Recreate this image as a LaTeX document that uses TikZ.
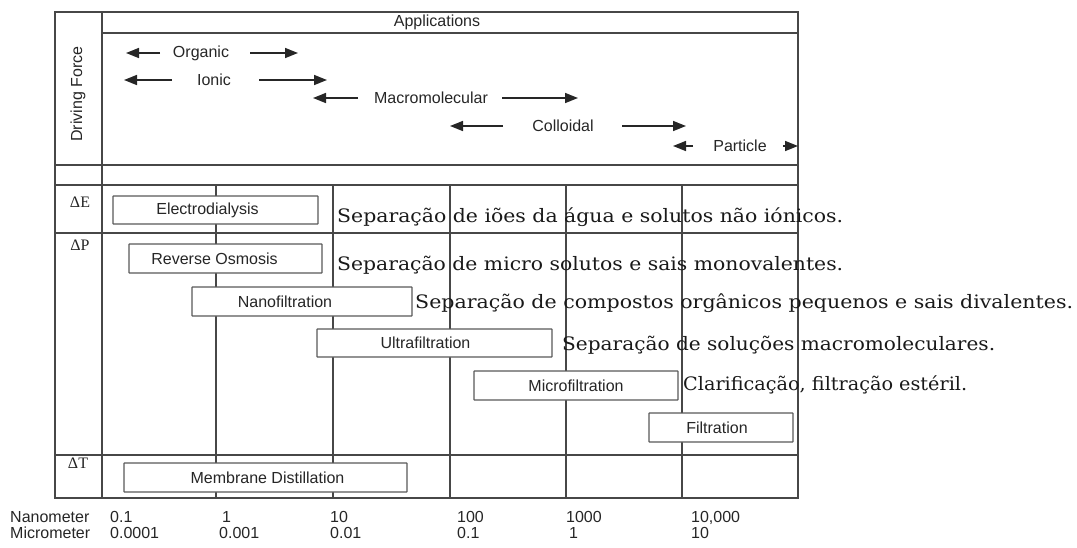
\documentclass[tikz,border=0pt]{standalone}
\usepackage{fontspec}
\usepackage{graphicx}
\setmainfont{Liberation Sans}
\newfontfamily\sidefont{DejaVu Serif}
\newfontfamily\dfont{Liberation Serif}
\usetikzlibrary{arrows.meta}
\newcommand{\fitw}[2]{\resizebox{#1}{\height}{#2}}
\tikzset{
  grid/.style={draw=black!72, line width=1.4pt},
  box/.style={draw=black!65, fill=white, line width=1.3pt, inner sep=0pt, rounded corners=0.5pt},
  lab/.style={font=\fontsize{16}{18}\selectfont, text=black!85, inner sep=0pt},
  arr/.style={draw=black!85, line width=1.6pt, -{Triangle[length=13pt,width=10pt]}},
  side/.style={font=\sidefont\fontsize{18.5}{20}\selectfont, text=black!90, inner sep=0pt, anchor=base west},
  dlab/.style={font=\dfont\fontsize{16}{18}\selectfont, text=black!85, inner sep=0pt},
  axis/.style={font=\fontsize{16}{18}\selectfont, text=black!85, inner sep=0pt, anchor=base west}
}
\begin{document}
\begin{tikzpicture}[x=1pt,y=-1pt]
\useasboundingbox (0,0) rectangle (1077,547);
% frame and grid
\draw[grid] (55,12) rectangle (798,498);
\draw[grid] (102,12) -- (102,498);
\draw[grid] (102,33) -- (798,33);
\draw[grid] (55,165) -- (798,165);
\draw[grid] (55,185) -- (798,185);
\draw[grid] (55,233) -- (798,233);
\draw[grid] (55,455) -- (798,455);
\foreach \x in {216,333,450,566,682} \draw[grid] (\x,185) -- (\x,498);
% header
\node[lab] (app) at (437,22) {Applications};
\node[lab, rotate=90] (df) at (78,94) {Driving Force};
% application ranges
\node[lab] (org) at (201,53) {Organic};
\coordinate (orgLs) at (160,53); \coordinate (orgLe) at (126,53);
\coordinate (orgRs) at (250,53); \coordinate (orgRe) at (298,53);
\draw[arr] (orgLs) -- (orgLe); \draw[arr] (orgRs) -- (orgRe);
\node[lab] (ion) at (214,80) {Ionic};
\coordinate (ionLs) at (172,80); \coordinate (ionLe) at (124,80);
\coordinate (ionRs) at (259,80); \coordinate (ionRe) at (327,80);
\draw[arr] (ionLs) -- (ionLe); \draw[arr] (ionRs) -- (ionRe);
\node[lab] (mac) at (431,98) {Macromolecular};
\coordinate (macLs) at (358,98); \coordinate (macLe) at (313,98);
\coordinate (macRs) at (502,98); \coordinate (macRe) at (578,98);
\draw[arr] (macLs) -- (macLe); \draw[arr] (macRs) -- (macRe);
\node[lab] (col) at (563,126) {Colloidal};
\coordinate (colLs) at (503,126); \coordinate (colLe) at (450,126);
\coordinate (colRs) at (622,126); \coordinate (colRe) at (686,126);
\draw[arr] (colLs) -- (colLe); \draw[arr] (colRs) -- (colRe);
\node[lab] (par) at (740,146) {Particle};
\coordinate (parLs) at (693,146); \coordinate (parLe) at (673,146);
\coordinate (parRs) at (783,146); \coordinate (parRe) at (798,146);
\draw[arr] (parLs) -- (parLe); \draw[arr] (parRs) -- (parRe);
% driving force labels
\node[dlab] (dE) at (80,202) {ΔE};
\node[dlab] (dP) at (80,245) {ΔP};
\node[dlab] (dT) at (78,463) {ΔT};
% processes
\node[box, minimum width=205pt, minimum height=28pt, label={[lab,xshift=-8pt]center:Electrodialysis}] (ed) at (215.5,210) {};
\node[box, minimum width=193pt, minimum height=29pt, label={[lab,xshift=-11pt]center:Reverse Osmosis}] (ro) at (225.5,258.5) {};
\node[box, minimum width=220pt, minimum height=29pt, label={[lab,xshift=-17pt]center:Nanofiltration}] (nf) at (302,301.5) {};
\node[box, minimum width=235pt, minimum height=28pt, label={[lab,xshift=-9pt]center:Ultrafiltration}] (uf) at (434.5,343) {};
\node[box, minimum width=204pt, minimum height=29pt, label={[lab]center:Microfiltration}] (mf) at (576,385.5) {};
\node[box, minimum width=144pt, minimum height=29pt, label={[lab,xshift=-4pt]center:Filtration}] (fi) at (721,427.5) {};
\node[box, minimum width=283pt, minimum height=29pt, label={[lab,xshift=2pt]center:Membrane Distillation}] (md) at (265.5,477.5) {};
% side descriptions
\node[side] (s1) at (337,222) {\fitw{506pt}{Separação de iões da água e solutos não iónicos.}};
\node[side] (s2) at (337,270) {\fitw{506pt}{Separação de micro solutos e sais monovalentes.}};
\node[side] (s3) at (415,308) {\fitw{658pt}{Separação de compostos orgânicos pequenos e sais divalentes.}};
\node[side] (s4) at (562,350) {\fitw{433pt}{Separação de soluções macromoleculares.}};
\node[side] (s5) at (683,390) {\fitw{284pt}{Clarificação, filtração estéril.}};
% scale
\node[axis] (nm) at (10,522) {Nanometer};
\node[axis] (um) at (10,538) {Micrometer};
\node[axis] (n1) at (110,522) {0.1};
\node[axis] (u1) at (110,538) {0.0001};
\node[axis] (n2) at (222,522) {1};
\node[axis] (u2) at (219,538) {0.001};
\node[axis] (n3) at (330,522) {10};
\node[axis] (u3) at (330,538) {0.01};
\node[axis] (n4) at (457,522) {100};
\node[axis] (u4) at (457,538) {0.1};
\node[axis] (n5) at (566,522) {1000};
\node[axis] (u5) at (569,538) {1};
\node[axis] (n6) at (691,522) {10,000};
\node[axis] (u6) at (691,538) {10};
\end{tikzpicture}
\end{document}
